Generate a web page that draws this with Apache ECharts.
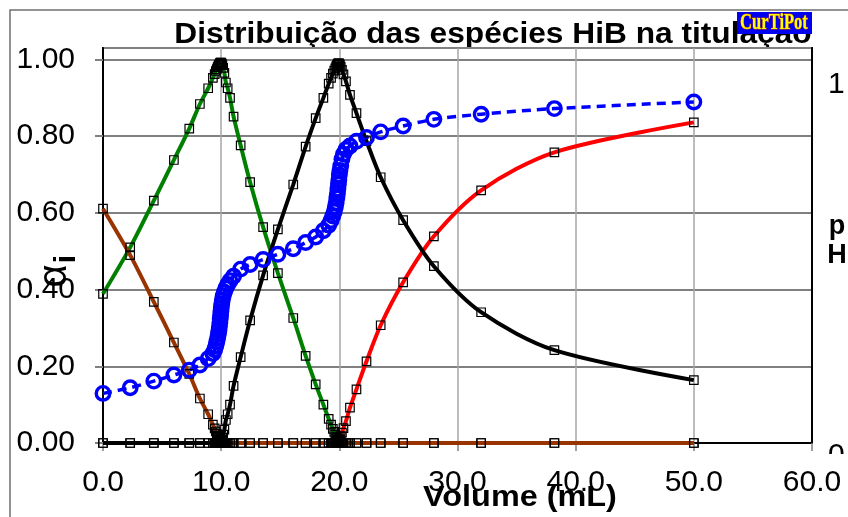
<!DOCTYPE html>
<html>
<head>
<meta charset="utf-8">
<script src="https://cdn.jsdelivr.net/npm/echarts@6/dist/echarts.min.js"></script>
<style>
html,body{margin:0;padding:0;background:#fff;}
#c{width:848px;height:517px;}
</style>
</head>
<body>
<div id="c"></div>
<script>
// Titrant volume (mL) at each computed point
const volumes = [0, 2.3, 4.3, 6.0, 7.3, 8.2, 8.9, 9.3, 9.45, 9.55, 9.63, 9.7, 9.76, 9.81, 9.85, 9.89, 9.92, 9.95, 9.98, 10.01, 10.05, 10.1, 10.17, 10.27, 10.4, 10.55, 10.75, 11.05, 11.65, 12.45, 13.55, 14.8, 16.1, 17.15, 18.0, 18.65, 19.1, 19.3, 19.45, 19.57, 19.66, 19.73, 19.79, 19.84, 19.88, 19.92, 19.96, 20.0, 20.05, 20.12, 20.22, 20.35, 20.56, 20.9, 21.45, 22.3, 23.5, 25.4, 28.0, 32.0, 38.2, 50.0];
// pH (right axis)
const pHValues = [1.94, 2.16, 2.42, 2.66, 2.85, 3.05, 3.3, 3.5, 3.65, 3.8, 3.95, 4.1, 4.25, 4.4, 4.55, 4.7, 4.85, 5.0, 5.15, 5.3, 5.45, 5.6, 5.75, 5.9, 6.05, 6.2, 6.35, 6.52, 6.8, 6.98, 7.18, 7.38, 7.6, 7.84, 8.06, 8.3, 8.52, 8.7, 8.88, 9.05, 9.22, 9.4, 9.58, 9.76, 9.94, 10.12, 10.3, 10.48, 10.66, 10.84, 11.1, 11.3, 11.48, 11.62, 11.8, 11.95, 12.17, 12.4, 12.66, 12.86, 13.08, 13.34];
// species fractions (left axis)
const alphaBrown = [0.611, 0.49, 0.368, 0.262, 0.18, 0.116, 0.075, 0.048, 0.038, 0.03, 0.024, 0.019, 0.015, 0.012, 0.01, 0.008, 0.006, 0.005, 0.004, 0.003, 0.002, 0.001, 0, 0, 0, 0, 0, 0, 0, 0, 0, 0, 0, 0, 0, 0, 0, 0, 0, 0, 0, 0, 0, 0, 0, 0, 0, 0, 0, 0, 0, 0, 0, 0, 0, 0, 0, 0, 0, 0, 0, 0];
const alphaGreen = [0.389, 0.51, 0.632, 0.738, 0.82, 0.884, 0.925, 0.952, 0.962, 0.97, 0.975, 0.98, 0.983, 0.986, 0.988, 0.99, 0.991, 0.992, 0.992, 0.991, 0.989, 0.985, 0.978, 0.965, 0.94, 0.925, 0.9, 0.851, 0.776, 0.68, 0.563, 0.443, 0.326, 0.227, 0.153, 0.1, 0.063, 0.048, 0.037, 0.029, 0.022, 0.017, 0.013, 0.01, 0.008, 0.006, 0.004, 0.003, 0.002, 0.001, 0, 0, 0, 0, 0, 0, 0, 0, 0, 0, 0, 0];
const alphaBlack = [0, 0, 0, 0, 0, 0, 0, 0, 0, 0, 0.001, 0.001, 0.002, 0.002, 0.002, 0.002, 0.003, 0.003, 0.004, 0.006, 0.009, 0.014, 0.022, 0.035, 0.06, 0.075, 0.1, 0.149, 0.224, 0.32, 0.437, 0.557, 0.674, 0.773, 0.847, 0.9, 0.937, 0.952, 0.963, 0.971, 0.977, 0.982, 0.985, 0.988, 0.989, 0.99, 0.99, 0.989, 0.986, 0.981, 0.973, 0.961, 0.943, 0.908, 0.86, 0.787, 0.693, 0.581, 0.461, 0.341, 0.242, 0.164];
const alphaRed = [0, 0, 0, 0, 0, 0, 0, 0, 0, 0, 0, 0, 0, 0, 0, 0, 0, 0, 0, 0, 0, 0, 0, 0, 0, 0, 0, 0, 0, 0, 0, 0, 0, 0, 0, 0, 0, 0, 0, 0, 0.001, 0.001, 0.002, 0.002, 0.003, 0.004, 0.006, 0.008, 0.012, 0.018, 0.027, 0.039, 0.057, 0.092, 0.14, 0.213, 0.307, 0.419, 0.539, 0.659, 0.758, 0.836];
// tick labels
const leftTicks = ['0.00', '0.20', '0.40', '0.60', '0.80', '1.00'];
const xTicks = ['0.0', '10.0', '20.0', '30.0', '40.0', '50.0', '60.0'];
const rightTicks = {0: '0', 14: '1'};

const titleText = 'Distribuição das espécies HiB na titulação';
const FONT = 'Liberation Sans, Arial, sans-serif';

function pairs(vals) { return volumes.map((v, i) => [v, vals[i]]); }

function species(name, color, vals) {
  return {
    type: 'line', name: name, data: pairs(vals), yAxisIndex: 0,
    smooth: 0.3, showAllSymbol: true,
    symbol: 'rect', symbolSize: 8.5,
    itemStyle: { color: 'rgba(0,0,0,0)', borderColor: '#000', borderWidth: 1.2 },
    lineStyle: { color: color, width: 4 },
    emphasis: { disabled: true }
  };
}

const chart = echarts.init(document.getElementById('c'), null, { renderer: 'canvas' });
chart.setOption({
  animation: false,
  backgroundColor: '#fff',
  grid: { left: 103, right: 36, top: 48, bottom: 74, show: true, backgroundColor: '#fff', borderColor: '#000', borderWidth: 2 },
  xAxis: {
    type: 'value', min: 0, max: 60, interval: 10,
    axisLine: { show: true, lineStyle: { color: '#000', width: 2 } },
    axisTick: { show: true, length: 8, inside: false, lineStyle: { color: '#808080', width: 1.5 } },
    axisLabel: { margin: 25, color: '#000', fontSize: 30, fontFamily: FONT, formatter: (v) => xTicks[Math.round(v / 10)] || '' },
    splitLine: { show: true, lineStyle: { color: '#a6a6a6', width: 1.5 } }
  },
  yAxis: [{
    type: 'value', min: 0, max: 1.03, interval: 0.2,
    axisLine: { show: true, lineStyle: { color: '#000', width: 2 } },
    axisTick: { show: true, length: 8, lineStyle: { color: '#808080', width: 2 } },
    axisLabel: { margin: 28, color: '#000', fontSize: 30, fontFamily: FONT, showMaxLabel: false,
      formatter: (v) => { const k = Math.round(v / 0.2); return Math.abs(v - k * 0.2) < 1e-6 ? leftTicks[k] : ''; } },
    splitLine: { show: true, lineStyle: { color: '#808080', width: 2 } }
  }, {
    type: 'value', min: 0, max: 15.45, interval: 14, position: 'right',
    axisLine: { show: true, lineStyle: { color: '#000', width: 2 } },
    axisTick: { show: false },
    splitLine: { show: false },
    axisLabel: { margin: 16, color: '#000', fontSize: 30, fontFamily: FONT, showMaxLabel: false,
      formatter: (v) => v === 0 ? '{z|' + rightTicks[0] + '}' : (rightTicks[v] || ''),
      rich: { z: { fontSize: 30, fontFamily: FONT, padding: [26, 0, 0, 0] } } }
  }],
  series: [
    species('B', '#ff0000', alphaRed),
    species('H2B', '#008000', alphaGreen),
    species('HB', '#000000', alphaBlack),
    species('H3B', '#993300', alphaBrown),
    {
      type: 'line', name: 'pH', data: pairs(pHValues), yAxisIndex: 1,
      smooth: 0.3, showAllSymbol: true,
      symbol: 'circle', symbolSize: 13.5,
      itemStyle: { color: 'rgba(0,0,0,0)', borderColor: '#0000ff', borderWidth: 3.4 },
      lineStyle: { color: '#0000ff', width: 3.5, type: [9, 6] },
      emphasis: { disabled: true }
    }
  ],
  graphic: [
    { type: 'rect', z: -10, shape: { x: 10, y: 10, width: 900, height: 600 }, style: { fill: null, stroke: '#707070', lineWidth: 1.5 } },
    { type: 'text', z: -5, x: 493, y: 35, scaleX: 1.056, style: { text: titleText, font: 'bold 30px ' + FONT, fill: '#000', textAlign: 'center', textVerticalAlign: 'middle' } },
    { type: 'rect', z: 50, shape: { x: 737, y: 12, width: 75, height: 22 }, style: { fill: '#0000ee' } },
    { type: 'text', z: 51, x: 774, y: 23, scaleX: 0.72, style: { text: 'CurTiPot', font: 'bold 23px Liberation Serif, serif', fill: '#ffff00', stroke: '#cc4400', lineWidth: 1, textAlign: 'center', textVerticalAlign: 'middle' } },
    { type: 'text', z: 50, x: 55, y: 276, rotation: Math.PI / 2, style: { text: 'α', font: '40px ' + FONT, fill: '#000', textAlign: 'center', textVerticalAlign: 'middle' } },
    { type: 'text', z: 50, x: 67, y: 259, rotation: Math.PI / 2, style: { text: 'i', font: 'bold 30px ' + FONT, fill: '#000', textAlign: 'center', textVerticalAlign: 'middle' } },
    { type: 'text', z: 50, x: 520, y: 498, scaleX: 1.08, style: { text: 'Volume (mL)', font: 'bold 30px ' + FONT, fill: '#000', textAlign: 'center', textVerticalAlign: 'middle' } },
    { type: 'text', z: 50, x: 837, y: 241, style: { text: 'p\nH', font: 'bold 27px ' + FONT, lineHeight: 29, fill: '#000', textAlign: 'center', textVerticalAlign: 'middle' } },
    { type: 'rect', z: 100, shape: { x: 818, y: 454, width: 30, height: 13 }, style: { fill: '#fff' } }
  ]
});
</script>
</body>
</html>
